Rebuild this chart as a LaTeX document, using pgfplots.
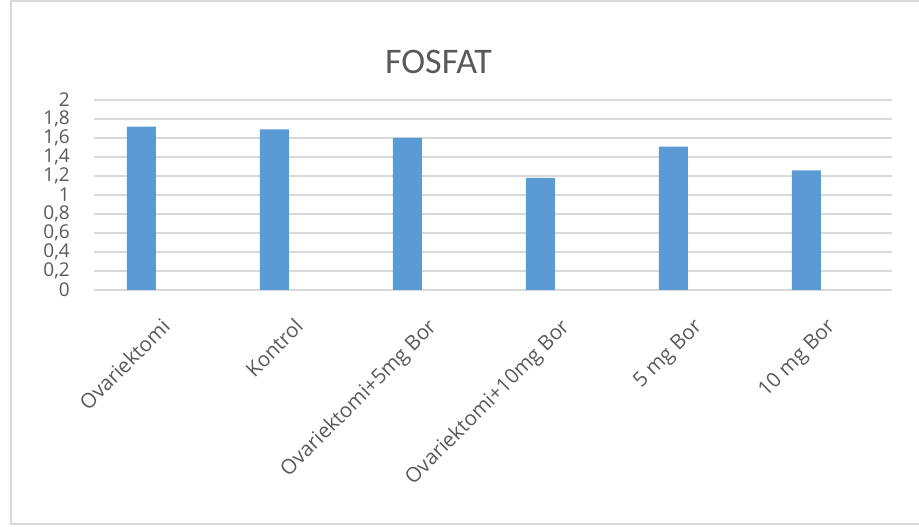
\documentclass[border=0pt]{standalone}
\usepackage{pgfplots}
\pgfplotsset{compat=1.18}
\usepackage{fontspec}
\setmainfont{Carlito}
\newfontfamily\labelfont{Open Sans}
\definecolor{barblue}{HTML}{5B9BD5}
\definecolor{gridgray}{HTML}{D9D9D9}
\definecolor{txtgray}{HTML}{595959}

\begin{document}
\begin{tikzpicture}[x=1pt,y=1pt]
\useasboundingbox (0,0) rectangle (919,527);
% chart frame (open on the right)
\draw[gridgray, line width=2pt] (919,526) -- (10.5,526) -- (10.5,2.5) -- (919,2.5);
\node[txtgray, font=\fontsize{36}{40}\selectfont, anchor=base, inner sep=0pt] at (438.5,453.7) {FOSFAT};
\begin{axis}[
  at={(94pt,237pt)}, anchor=south west,
  scale only axis, width=798pt, height=190pt,
  xmin=-0.356, xmax=5.644, ymin=0, ymax=2,
  ybar, bar width=29pt,
  ytick={0,0.2,0.4,0.6,0.8,1,1.2,1.4,1.6,1.8,2},
  /pgf/number format/.cd, fixed, use comma, assume math mode=true, /pgfplots/.cd,
  ymajorgrids, major grid style={gridgray, line width=1.3pt},
  axis line style={draw=none}, major tick length=0pt,
  xtick={0,1,2,3,4,5},
  xticklabels={Ovariektomi, Kontrol, Ovariektomi+5mg Bor, Ovariektomi+10mg Bor, 5 mg Bor, 10 mg Bor},
  xticklabel style={xshift=19pt, yshift=-27pt, rotate=45, anchor=north east, inner sep=0pt,
    font=\labelfont\fontsize{20.5}{24}\selectfont, text=txtgray},
  yticklabel style={anchor=east, inner sep=0pt, xshift=-24pt,
    font=\labelfont\fontsize{19}{22}\selectfont, text=txtgray},
]
\addplot[fill=barblue, draw=none] coordinates {
  (0,1.72) (1,1.69) (2,1.60) (3,1.18) (4,1.51) (5,1.26)
};
\end{axis}
\end{tikzpicture}
\end{document}
